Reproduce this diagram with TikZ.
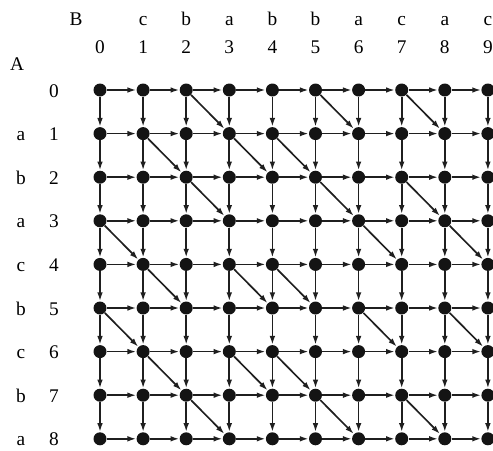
\documentclass[tikz,border=0pt]{standalone}
\usepackage{fontspec}
\setmainfont{Liberation Serif}
\usetikzlibrary{arrows.meta}

\begin{document}
\begin{tikzpicture}[x=0.02cm,y=-0.02cm,
    dot/.style={circle,fill=black!92,minimum size=0.26cm,inner sep=0pt},
    edge/.style={draw=black!88,line width=0.95pt,-{Latex[length=5pt,width=3.2pt]}},
    lbl/.style={font=\fontsize{11}{12}\selectfont,inner sep=0pt,anchor=base},
  ]
    \useasboundingbox (0,0) rectangle (493,450);

    % names of the strings
    \node[lbl] (nameB) at (76,25) {B};
    \node[lbl] (nameA) at (17,70) {A};

    % column labels
    \foreach \s [count=\j from 1] in {c,b,a,b,b,a,c,a,c}
      \node[lbl] (colchar\j) at ({100+43.1*\j},25) {\s};
    \foreach \j in {0,...,9}
      \node[lbl] (colnum\j) at ({100+43.1*\j},53) {\j};

    % row labels
    \foreach \s [count=\i from 1] in {a,b,a,c,b,c,b,a}
      \node[lbl] (rowchar\i) at (21,{97+43.6*\i}) {\s};
    \foreach \i in {0,...,8}
      \node[lbl] (rownum\i) at (54,{97+43.6*\i}) {\i};

    % grid points
    \foreach \i in {0,...,8}
      \foreach \j in {0,...,9}
        \node[dot] (n\i-\j) at ({100+43.1*\j},{90+43.6*\i}) {};

    % horizontal edges
    \foreach \i in {0,...,8}
      \foreach \j in {1,...,9}{
        \pgfmathtruncatemacro{\jprev}{\j-1}
        \draw[edge] (n\i-\jprev) -- (n\i-\j);
      }
    % vertical edges
    \foreach \i in {1,...,8}
      \foreach \j in {0,...,9}{
        \pgfmathtruncatemacro{\iprev}{\i-1}
        \draw[edge] (n\iprev-\j) -- (n\i-\j);
      }

    % diagonal edges where the characters match
    \foreach \i/\j in {1/3,1/6,1/8, 2/2,2/4,2/5, 3/3,3/6,3/8, 4/1,4/7,4/9,
                       5/2,5/4,5/5, 6/1,6/7,6/9, 7/2,7/4,7/5, 8/3,8/6,8/8}{
      \pgfmathtruncatemacro{\iprev}{\i-1}
      \pgfmathtruncatemacro{\jprev}{\j-1}
      \draw[edge] (n\iprev-\jprev) -- (n\i-\j);
    }
\end{tikzpicture}
\end{document}
